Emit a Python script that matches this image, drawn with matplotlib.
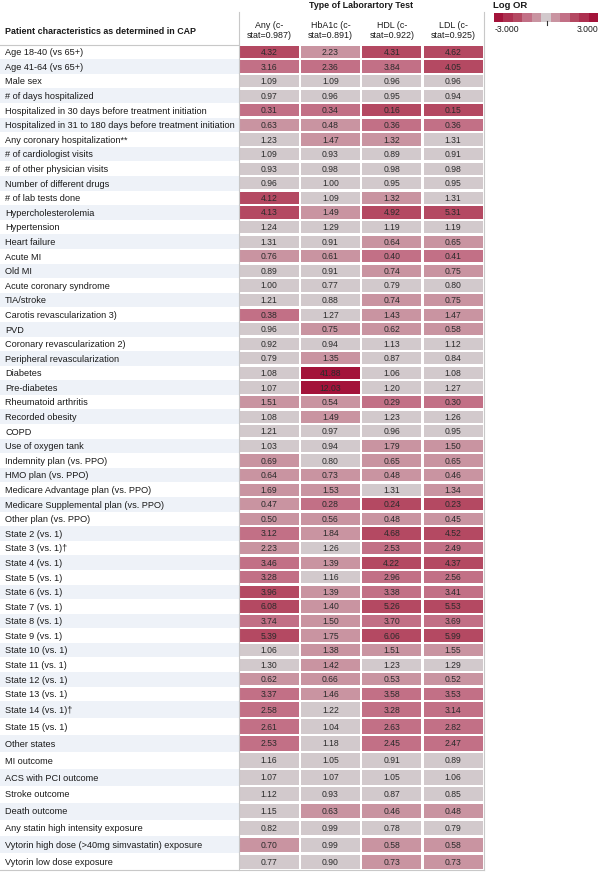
import numpy as np
import matplotlib
matplotlib.use("Agg")
import matplotlib.pyplot as plt
from matplotlib.colors import ListedColormap, BoundaryNorm

plt.rcParams['font.family'] = ['Liberation Sans', 'DejaVu Sans']

# row labels
labels = [
    "Age 18-40 (vs 65+)", "Age 41-64 (vs 65+)", "Male sex", "# of days hospitalized",
    "Hospitalized in 30 days before treatment initiation",
    "Hospitalized in 31 to 180 days before treatment initiation",
    "Any coronary hospitalization**", "# of cardiologist visits", "# of other physician visits",
    "Number of different drugs", "# of lab tests done", "Hypercholesterolemia", "Hypertension",
    "Heart failure", "Acute MI", "Old MI", "Acute coronary syndrome", "TIA/stroke",
    "Carotis revascularization 3)", "PVD", "Coronary revascularization 2)",
    "Peripheral revascularization", "Diabetes", "Pre-diabetes", "Rheumatoid arthritis",
    "Recorded obesity", "COPD", "Use of oxygen tank", "Indemnity plan (vs. PPO)",
    "HMO plan (vs. PPO)", "Medicare Advantage plan (vs. PPO)",
    "Medicare Supplemental plan (vs. PPO)", "Other plan (vs. PPO)",
    "State 2 (vs. 1)", "State 3 (vs. 1)\u2020", "State 4 (vs. 1)", "State 5 (vs. 1)",
    "State 6 (vs. 1)", "State 7 (vs. 1)", "State 8 (vs. 1)", "State 9 (vs. 1)",
    "State 10 (vs. 1)", "State 11 (vs. 1)", "State 12 (vs. 1)", "State 13 (vs. 1)",
    "State 14 (vs. 1)\u2020", "State 15 (vs. 1)", "Other states", "MI outcome",
    "ACS with PCI outcome", "Stroke outcome", "Death outcome",
    "Any statin high intensity exposure", "Vytorin high dose (>40mg simvastatin) exposure",
    "Vytorin low dose exposure",
]

columns = ["Any (c-\nstat=0.987)", "HbA1c (c-\nstat=0.891)", "HDL (c-\nstat=0.922)", "LDL (c-\nstat=0.925)"]

or_any = [4.32, 3.16, 1.09, 0.97, 0.31, 0.63, 1.23, 1.09, 0.93, 0.96, 4.12, 4.13, 1.24, 1.31,
          0.76, 0.89, 1.00, 1.21, 0.38, 0.96, 0.92, 0.79, 1.08, 1.07, 1.51, 1.08, 1.21, 1.03,
          0.69, 0.64, 1.69, 0.47, 0.50, 3.12, 2.23, 3.46, 3.28, 3.96, 6.08, 3.74, 5.39, 1.06,
          1.30, 0.62, 3.37, 2.58, 2.61, 2.53, 1.16, 1.07, 1.12, 1.15, 0.82, 0.70, 0.77]
or_hba1c = [2.23, 2.36, 1.09, 0.96, 0.34, 0.48, 1.47, 0.93, 0.98, 1.00, 1.09, 1.49, 1.29, 0.91,
            0.61, 0.91, 0.77, 0.88, 1.27, 0.75, 0.94, 1.35, 41.88, 12.03, 0.54, 1.49, 0.97, 0.94,
            0.80, 0.73, 1.53, 0.28, 0.56, 1.84, 1.26, 1.39, 1.16, 1.39, 1.40, 1.50, 1.75, 1.38,
            1.42, 0.66, 1.46, 1.22, 1.04, 1.18, 1.05, 1.07, 0.93, 0.63, 0.99, 0.99, 0.90]
or_hdl = [4.31, 3.84, 0.96, 0.95, 0.16, 0.36, 1.32, 0.89, 0.98, 0.95, 1.32, 4.92, 1.19, 0.64,
          0.40, 0.74, 0.79, 0.74, 1.43, 0.62, 1.13, 0.87, 1.06, 1.20, 0.29, 1.23, 0.96, 1.79,
          0.65, 0.48, 1.31, 0.24, 0.48, 4.68, 2.53, 4.22, 2.96, 3.38, 5.26, 3.70, 6.06, 1.51,
          1.23, 0.53, 3.58, 3.28, 2.63, 2.45, 0.91, 1.05, 0.87, 0.46, 0.78, 0.58, 0.73]
or_ldl = [4.62, 4.05, 0.96, 0.94, 0.15, 0.36, 1.31, 0.91, 0.98, 0.95, 1.31, 5.31, 1.19, 0.65,
          0.41, 0.75, 0.80, 0.75, 1.47, 0.58, 1.12, 0.84, 1.08, 1.27, 0.30, 1.26, 0.95, 1.50,
          0.65, 0.46, 1.34, 0.23, 0.45, 4.52, 2.49, 4.37, 2.56, 3.41, 5.53, 3.69, 5.99, 1.55,
          1.29, 0.52, 3.53, 3.14, 2.82, 2.47, 0.89, 1.06, 0.85, 0.48, 0.79, 0.58, 0.73]

values = np.array([or_any, or_hba1c, or_hdl, or_ldl])

# binned log-OR scale: 11 steps, red at both ends, grey in the middle
half = ["#A3133A", "#AD3050", "#B44962", "#C27086", "#C994A1"]
cmap = ListedColormap(half + ["#D2C9CC"] + half[::-1])
norm = BoundaryNorm(np.linspace(-3, 3, 12), cmap.N, clip=True)

fig = plt.figure(figsize=(6, 8.74), dpi=100)
ax = fig.add_axes([0, 0, 1, 1])

# layout in pixels
n = len(labels)
row_h = np.where(np.arange(n) < 45, 14.59, 16.9)
row_top = 44.7 + np.concatenate([[0], np.cumsum(row_h)[:-1]])
row_mid = row_top + row_h / 2
table_left, col_w = 238.5, 61.4
table_right = table_left + col_w * len(columns)
table_bottom = row_top[-1] + row_h[-1]
gap = 2.4

# striped label column
odd = np.arange(n) % 2 == 1
ax.barh(row_mid[odd], table_left, height=row_h[odd], left=0, color="#EEF2F8", zorder=0)

for i, lab in enumerate(labels):
    ax.text(5, row_mid[i] + 0.8, lab, fontsize=6.6, va="center", ha="left", color="#1a1a1a")

for j, col in enumerate(columns):
    logs = np.log(values[j])
    left = table_left + j * col_w + 1.0
    ax.barh(row_mid, col_w - gap, height=row_h - gap, left=left,
            color=cmap(norm(logs)), zorder=1)
    for i, v in enumerate(values[j]):
        ax.text(left + (col_w - gap) / 2, row_mid[i] + 0.5, f"{v:.2f}", fontsize=6.2,
                ha="center", va="center", color="#2b2b2b", zorder=2)
    ax.text(table_left + (j + 0.5) * col_w, 30.5, col, fontsize=6.4, ha="center",
            va="center", linespacing=1.05, color="#1a1a1a")

# grid lines
ax.plot([table_left, table_left], [12, table_bottom], color="#c8c8c8", lw=0.8)
ax.plot([table_right, table_right], [12, table_bottom], color="#c8c8c8", lw=0.8)
ax.plot([0, table_left], [44.5, 44.5], color="#c8c8c8", lw=0.8)
ax.plot([0, table_right], [table_bottom, table_bottom], color="#c8c8c8", lw=0.8)

ax.text((table_left + table_right) / 2, 5, "Type of Laborartory Test", fontsize=6.4,
        fontweight="bold", ha="center", va="center", color="#1a1a1a")
ax.text(5, 32, "Patient characteristics as determined in CAP", fontsize=6.4,
        fontweight="bold", ha="left", va="center", color="#1a1a1a")

# legend
steps = np.linspace(-3, 3, 11)
ax.imshow(steps[None, :], cmap=cmap, norm=norm, extent=(494, 598, 22, 13),
          aspect="auto", interpolation="nearest")
ax.plot([547, 547], [21, 24.5], color="#333333", lw=0.8)
ax.text(493, 5, "Log OR", fontsize=6.8, fontweight="bold", ha="left", va="center",
        color="#1a1a1a")
ax.text(495, 29.5, "-3.000", fontsize=6.2, ha="left", va="center", color="#1a1a1a")
ax.text(598, 29.5, "3.000", fontsize=6.2, ha="right", va="center", color="#1a1a1a")

ax.set_xlim(0, 600)
ax.set_ylim(874, 0)
ax.axis("off")

fig.savefig("out.png", dpi=100, facecolor="white")
